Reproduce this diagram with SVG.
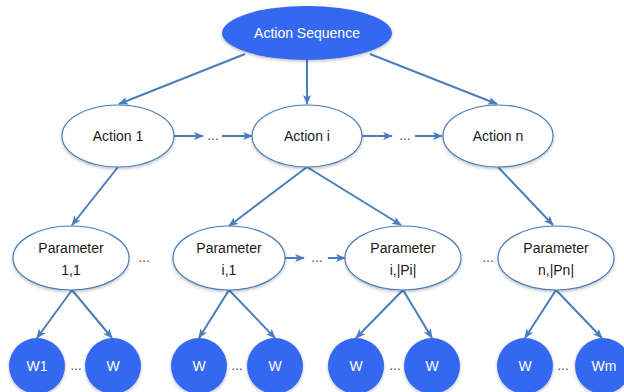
<svg xmlns="http://www.w3.org/2000/svg" width="624" height="392" viewBox="0 0 624 392">
<defs>
<marker id="ah" markerWidth="10" markerHeight="8" refX="9" refY="4" orient="auto" markerUnits="userSpaceOnUse">
<path d="M0,0 L10,4 L0,8 L2.5,4 Z" fill="#4a7ebb"/>
</marker>
<filter id="sh" x="-20%" y="-20%" width="140%" height="140%">
<feDropShadow dx="0" dy="1.5" stdDeviation="1.5" flood-color="#000" flood-opacity="0.25"/>
</filter>
<style>
.e{fill:#ffffff;stroke:#4a7ebb;stroke-width:1.2;filter:url(#sh)}
.b{fill:#3568f0;stroke:none;filter:url(#sh)}
.t{font-family:"Liberation Sans",Arial,sans-serif;font-size:14px;fill:#1a1a1a;text-anchor:middle}
.w{font-family:"Liberation Sans",Arial,sans-serif;font-size:14px;fill:#ffffff;text-anchor:middle}
.d{font-family:"Liberation Sans",Arial,sans-serif;font-size:12px;fill:#333;text-anchor:middle}
.c line{stroke:#4a7ebb;stroke-width:2;marker-end:url(#ah)}
</style>
</defs>
<rect width="624" height="392" fill="#ffffff"/>

<g id="connectors" class="c">
<line x1="245" y1="54" x2="119" y2="104"/>
<line x1="307" y1="60" x2="307" y2="104"/>
<line x1="370" y1="54" x2="497" y2="104"/>
<line x1="174" y1="136" x2="203" y2="136"/>
<line x1="222" y1="136" x2="252" y2="136"/>
<line x1="362" y1="136" x2="392" y2="136"/>
<line x1="415" y1="136" x2="442" y2="136"/>
<line x1="118" y1="167" x2="72" y2="225"/>
<line x1="307" y1="167" x2="229" y2="226"/>
<line x1="307" y1="167" x2="401" y2="225"/>
<line x1="498" y1="167" x2="553" y2="225"/>
<line x1="285" y1="258" x2="304" y2="258"/>
<line x1="328" y1="258" x2="345" y2="258"/>
<line x1="72" y1="290" x2="37" y2="338"/>
<line x1="72" y1="290" x2="112" y2="338"/>
<line x1="229" y1="290" x2="199" y2="338"/>
<line x1="229" y1="290" x2="275" y2="338"/>
<line x1="403" y1="290" x2="356" y2="338"/>
<line x1="403" y1="290" x2="432" y2="338"/>
<line x1="556" y1="290" x2="525" y2="338"/>
<line x1="556" y1="290" x2="602" y2="338"/>
</g>

<g id="action-sequence"><ellipse class="b" cx="307" cy="33" rx="85" ry="27"/><text class="w" x="307" y="38">Action Sequence</text></g>

<g id="action-1"><ellipse class="e" cx="118" cy="136" rx="56" ry="31"/><text class="t" x="118" y="141">Action 1</text></g>
<g id="action-i"><ellipse class="e" cx="307" cy="136" rx="55" ry="31"/><text class="t" x="307" y="141">Action i</text></g>
<g id="action-n"><ellipse class="e" cx="498" cy="136" rx="55" ry="31"/><text class="t" x="498" y="141">Action n</text></g>
<g id="dots-a1"><text class="d" x="213" y="140">…</text></g>
<g id="dots-a2"><text class="d" x="405" y="140">…</text></g>

<g id="param-1-1"><ellipse class="e" cx="71" cy="258" rx="58" ry="32"/><text class="t" x="71" y="253">Parameter</text><text class="t" x="71" y="275">1,1</text></g>
<g id="param-i-1"><ellipse class="e" cx="229" cy="258" rx="56" ry="32"/><text class="t" x="229" y="253">Parameter</text><text class="t" x="229" y="275">i,1</text></g>
<g id="param-i-pi"><ellipse class="e" cx="403" cy="258" rx="58" ry="32"/><text class="t" x="403" y="253">Parameter</text><text class="t" x="403" y="275">i,|Pi|</text></g>
<g id="param-n-pn"><ellipse class="e" cx="556" cy="258" rx="58" ry="32"/><text class="t" x="556" y="253">Parameter</text><text class="t" x="556" y="275">n,|Pn|</text></g>
<g id="dots-p1"><text class="d" x="144" y="262">…</text></g>
<g id="dots-p2"><text class="d" x="317" y="262">…</text></g>
<g id="dots-p3"><text class="d" x="488" y="262">…</text></g>

<g id="w1"><circle class="b" cx="37" cy="366" r="28"/><text class="w" x="37" y="371">W1</text></g>
<g id="w2"><circle class="b" cx="113" cy="366" r="28"/><text class="w" x="113" y="371">W</text></g>
<g id="w3"><circle class="b" cx="199" cy="366" r="28"/><text class="w" x="199" y="371">W</text></g>
<g id="w4"><circle class="b" cx="275" cy="366" r="28"/><text class="w" x="275" y="371">W</text></g>
<g id="w5"><circle class="b" cx="356" cy="366" r="28"/><text class="w" x="356" y="371">W</text></g>
<g id="w6"><circle class="b" cx="432" cy="366" r="28"/><text class="w" x="432" y="371">W</text></g>
<g id="w7"><circle class="b" cx="525" cy="366" r="28"/><text class="w" x="525" y="371">W</text></g>
<g id="wm"><circle class="b" cx="603" cy="366" r="28"/><text class="w" x="604" y="371">Wm</text></g>
<g id="dots-w1"><text class="d" x="76" y="370">…</text></g>
<g id="dots-w2"><text class="d" x="237" y="370">…</text></g>
<g id="dots-w3"><text class="d" x="395" y="370">…</text></g>
<g id="dots-w4"><text class="d" x="563" y="370">…</text></g>
</svg>
